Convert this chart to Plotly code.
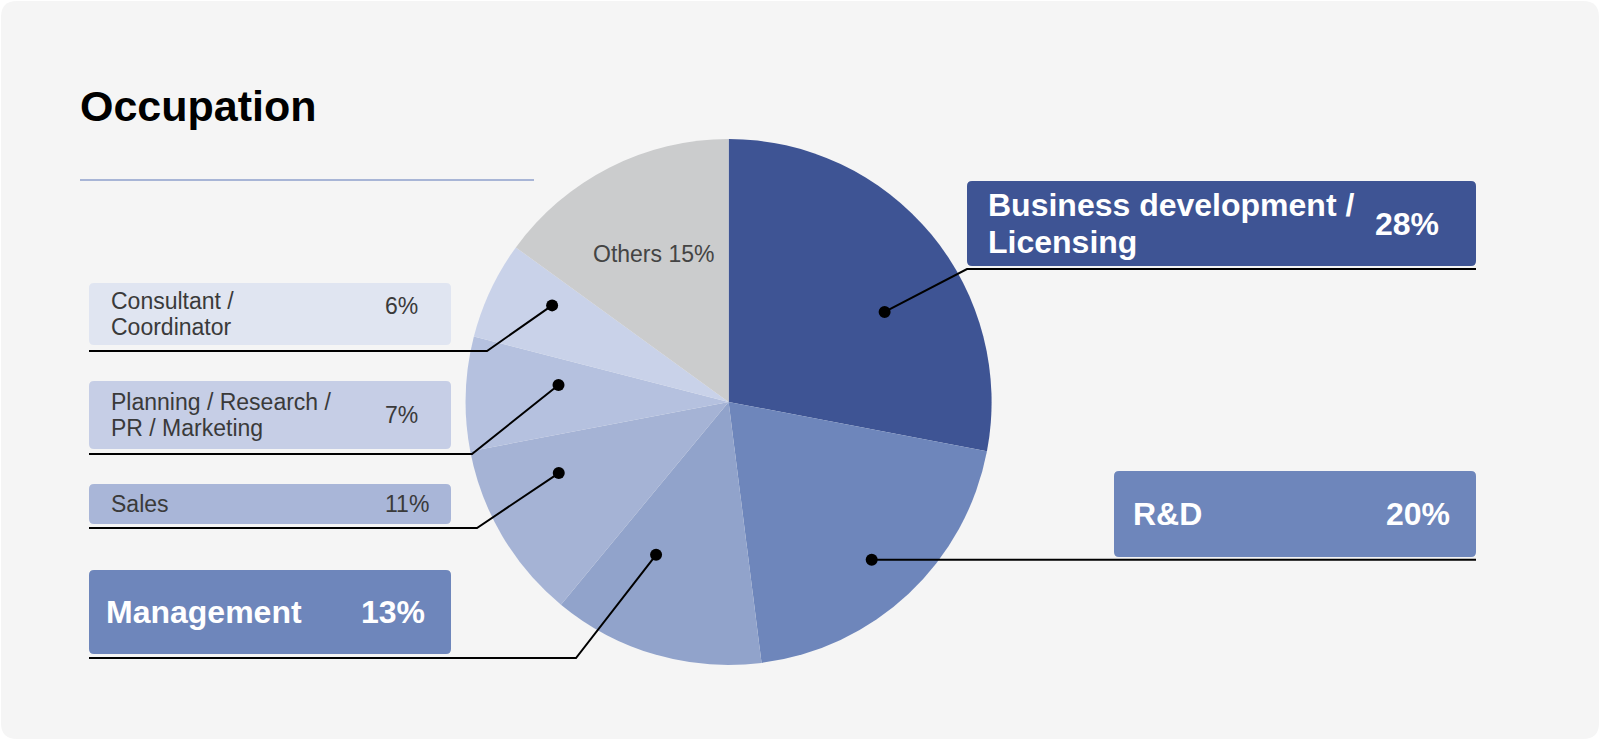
import math
import plotly.graph_objects as go

# ── Data ──────────────────────────────────────────────────────────────────────

categories = [
    "Business development / Licensing",
    "R&D",
    "Management",
    "Sales",
    "Planning / Research / PR / Marketing",
    "Consultant / Coordinator",
    "Others",
]
shares = [28, 20, 13, 11, 7, 6, 15]
box_text = [
    "Business development /<br>Licensing",
    "R&D",
    "Management",
    "Sales",
    "Planning / Research /<br>PR / Marketing",
    "Consultant /<br>Coordinator",
    "Others",
]
slice_colors = ["#3e5494", "#6e86bb", "#91a3cb", "#a5b3d5", "#b5c1df", "#c9d2e9", "#cbcccd"]

# ── Layout (pixels, 1600 x 740 canvas) ───────────────────────────────────────

W, H = 1600, 740
CX, CY, R = 728.6, 402, 263
FONT = "Liberation Sans, Arial, sans-serif"

# box, underline y, elbow x, text x, pct x, pct y, dot angle nudge, dot radius frac
LABELS = {
    "Business development / Licensing": dict(side="right", box=(967, 181, 1476, 266), line_y=269, elbow=967,
                                             text_x=986, pct_x=1373, pct_y=None, fill="#3e5494",
                                             big=True, nudge=9.6, rho=0.685),
    "R&D": dict(side="right", box=(1114, 471, 1476, 557), line_y=None, elbow=None,
                text_x=1131, pct_x=1384, pct_y=None, fill="#6e86bb", big=True, nudge=1.0, rho=0.81),
    "Management": dict(side="left", box=(89, 570, 451, 654), line_y=658, elbow=576,
                       text_x=104, pct_x=359, pct_y=None, fill="#6e86bb", big=True, nudge=9.2, rho=0.643),
    "Sales": dict(side="left", box=(89, 484, 451, 524), line_y=528, elbow=477,
                  text_x=109, pct_x=383, pct_y=None, fill="#a9b6d8", big=False, nudge=7.9, rho=0.70),
    "Planning / Research / PR / Marketing": dict(side="left", box=(89, 381, 451, 449), line_y=454, elbow=472,
                                                 text_x=109, pct_x=383, pct_y=None, fill="#c6cee6",
                                                 big=False, nudge=3.9, rho=0.65),
    "Consultant / Coordinator": dict(side="left", box=(89, 283, 451, 345), line_y=351, elbow=487,
                                     text_x=109, pct_x=383, pct_y=306, fill="#e0e5f1",
                                     big=False, nudge=3.5, rho=0.765),
}
BIG = dict(size=32, pitch=37, color="#ffffff")
SMALL = dict(size=23, pitch=26, color="#3a3a3a")


def px(x):
    return x / W


def py(y):
    return 1 - y / H


def rrect(x0, y0, x1, y1, r):
    pts = [
        f"M {px(x0 + r)},{py(y0)}",
        f"L {px(x1 - r)},{py(y0)}", f"Q {px(x1)},{py(y0)} {px(x1)},{py(y0 + r)}",
        f"L {px(x1)},{py(y1 - r)}", f"Q {px(x1)},{py(y1)} {px(x1 - r)},{py(y1)}",
        f"L {px(x0 + r)},{py(y1)}", f"Q {px(x0)},{py(y1)} {px(x0)},{py(y1 - r)}",
        f"L {px(x0)},{py(y0 + r)}", f"Q {px(x0)},{py(y0)} {px(x0 + r)},{py(y0)}",
        "Z",
    ]
    return " ".join(pts)


def polar(angle_deg, rho):
    a = math.radians(angle_deg)
    return CX + rho * R * math.sin(a), CY - rho * R * math.cos(a)


def note(text, x, y, font, xanchor="left"):
    return dict(text=text, x=px(x), y=py(y), xref="paper", yref="paper",
                xanchor=xanchor, yanchor="middle", align="left", showarrow=False, font=font)


# slice mid-angles, clockwise from 12 o'clock
total = sum(shares)
mid_angle = {}
acc = 0
for cat, s in zip(categories, shares):
    mid_angle[cat] = (acc + s / 2) / total * 360
    acc += s

fig = go.Figure()

fig.add_trace(go.Pie(
    labels=categories,
    values=shares,
    marker=dict(colors=slice_colors, line=dict(width=0)),
    sort=False,
    direction="clockwise",
    rotation=0,
    textinfo="none",
    hoverinfo="label+percent",
    showlegend=False,
    domain=dict(x=[px(CX - R), px(CX + R)], y=[py(CY + R), py(CY - R)]),
))

shapes = [
    # card background
    dict(type="path", path=rrect(1, 1, W - 1, H - 1, 16), xref="paper", yref="paper",
         fillcolor="#f5f5f5", line=dict(width=0), layer="below"),
    # divider under the title
    dict(type="line", xref="paper", yref="paper", x0=px(80), x1=px(534), y0=py(180), y1=py(180),
         line=dict(color="#8e9fcb", width=1.5)),
]
annotations = [
    note("<b>Occupation</b>", 78, 106, dict(family=FONT, size=43, color="#000000")),
]

for cat, s, label in zip(categories, shares, box_text):
    if cat not in LABELS:
        # label drawn inside the slice
        ox, oy = polar(mid_angle[cat], 0.63)
        annotations.append(note(f"{label} {s}%", ox, oy,
                                dict(family=FONT, size=23, color="#444444"), xanchor="center"))
        continue

    cfg = LABELS[cat]
    x0, y0, x1, y1 = cfg["box"]
    dx, dy = polar(mid_angle[cat] + cfg["nudge"], cfg["rho"])

    shapes.append(dict(type="path", path=rrect(x0, y0, x1, y1, 5), xref="paper", yref="paper",
                       fillcolor=cfg["fill"], line=dict(width=0)))

    if cfg["side"] == "left":
        path = f"M {px(x0)},{py(cfg['line_y'])} L {px(cfg['elbow'])},{py(cfg['line_y'])} L {px(dx)},{py(dy)}"
    elif cfg["line_y"] is None:
        path = f"M {px(dx)},{py(dy)} L {px(x1)},{py(dy)}"
    else:
        path = (f"M {px(dx)},{py(dy)} L {px(cfg['elbow'])},{py(cfg['line_y'])} "
                f"L {px(x1)},{py(cfg['line_y'])}")
    shapes.append(dict(type="path", path=path, xref="paper", yref="paper",
                       line=dict(color="#000000", width=2)))
    shapes.append(dict(type="circle", xref="paper", yref="paper",
                       x0=px(dx - 6), x1=px(dx + 6), y0=py(dy + 6), y1=py(dy - 6),
                       fillcolor="#000000", line=dict(width=0)))

    st = BIG if cfg["big"] else SMALL
    tfont = dict(family=FONT, size=st["size"], color=st["color"])
    cy = (y0 + y1) / 2
    lines = label.split("<br>")
    for i, ln in enumerate(lines):
        ly = cy + (i - (len(lines) - 1) / 2) * st["pitch"]
        annotations.append(note(f"<b>{ln}</b>" if cfg["big"] else ln, cfg["text_x"], ly, tfont))
    pyy = cfg["pct_y"] if cfg["pct_y"] is not None else cy
    annotations.append(note(f"<b>{s}%</b>" if cfg["big"] else f"{s}%", cfg["pct_x"], pyy, tfont))

fig.update_layout(
    width=W, height=H,
    margin=dict(l=0, r=0, t=0, b=0),
    paper_bgcolor="#ffffff",
    plot_bgcolor="rgba(0,0,0,0)",
    shapes=shapes,
    annotations=annotations,
    font=dict(family=FONT),
)

fig.write_html("out.html", config={"displayModeBar": False},
               post_script="document.body.style.margin = '0';")
